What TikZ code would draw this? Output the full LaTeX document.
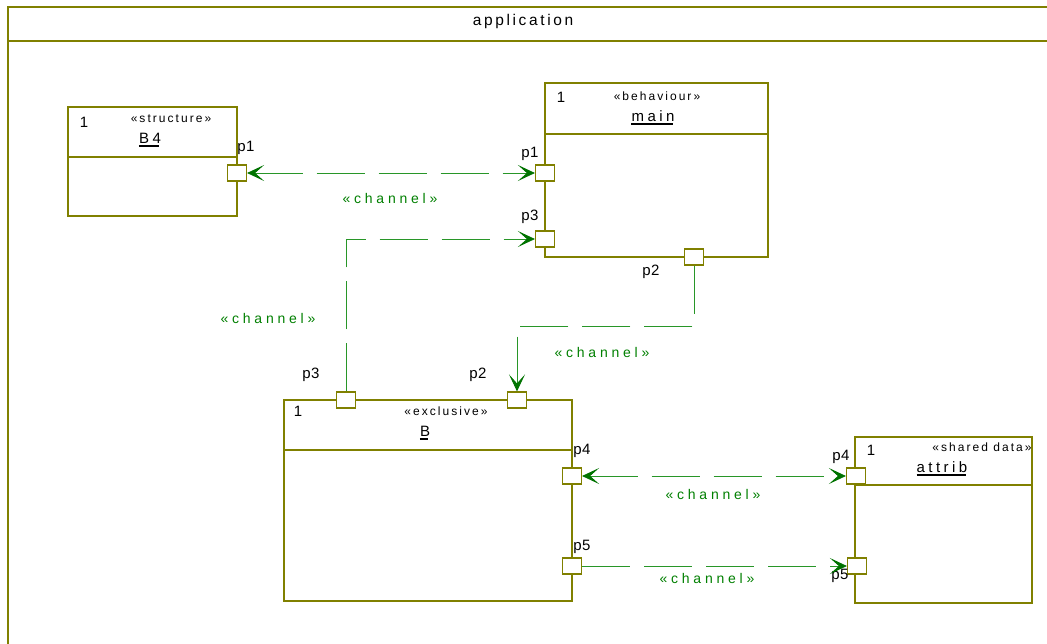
\documentclass[tikz,border=0pt]{standalone}
\usepackage{fontspec}
\setmainfont{Liberation Sans}
\usetikzlibrary{arrows.meta}
\newfontfamily\titlefont[LetterSpace=17]{Liberation Sans}
\newfontfamily\chanfont[LetterSpace=27]{Liberation Sans}
\newfontfamily\stereofont[LetterSpace=17]{Liberation Sans}
\newfontfamily\namefont[LetterSpace=23]{Liberation Sans}
\newfontfamily\portfont[LetterSpace=3]{Liberation Sans}
\definecolor{boxline}{RGB}{128,128,0}
\definecolor{chanline}{RGB}{40,150,40}
\definecolor{chanhead}{RGB}{0,115,0}
\definecolor{chantext}{RGB}{0,128,0}
\tikzset{
  box/.style={draw=boxline, line width=1.5pt, fill=white, inner sep=0pt},
  sep/.style={draw=boxline, line width=1.6pt},
  port/.style={draw=boxline, line width=1.2pt, fill=white, inner sep=0pt,
    minimum width=19pt, minimum height=16pt},
  chan/.style={draw=chanline, line width=0.9pt, dash pattern=on 48pt off 14pt},
  Arr/.tip={Stealth[length=17pt,width=16pt,inset=9pt,line width=0.8pt,color=chanhead,fill=chanhead]},
  plabel/.style={font=\portfont\fontsize{15}{17}\selectfont, text=black, inner sep=0pt},
  stereo/.style={font=\stereofont\fontsize{12}{14}\selectfont, inner sep=0pt},
  pname/.style={font=\namefont\fontsize{15}{17}\selectfont, inner sep=0pt},
  clabel/.style={font=\chanfont\fontsize{14}{16}\selectfont, text=chantext, inner sep=0pt},
}
\newcommand\ulnode[3]{%
  \node[pname] (#1) at (#2) {#3};
  \draw[line width=1.8pt] ([yshift=-2.8pt]#1.base west) -- ([yshift=-2.8pt,xshift=-2pt]#1.base east);}
\begin{document}
\begin{tikzpicture}[x=1pt,y=-1pt]
\useasboundingbox (0,0) rectangle (1047,643);
\fill[white] (0,0) rectangle (1047,643);
\clip (0,0) rectangle (1047,643);

% enclosing frame "application"
\draw[sep] (8,660) -- (8,7) -- (1070,7);
\draw[sep] (8,41) -- (1070,41);
\node[font=\titlefont\fontsize{15.5}{17}\selectfont, inner sep=0pt] (title) at (523,21) {application};

% parts
\node[box, minimum width=169pt, minimum height=109pt] (b4) at (152.5,161.5) {};
\draw[sep] (b4.north west) ++(0,51) -- ++(169,0);
\node[box, minimum width=223pt, minimum height=174pt] (main) at (656.5,170) {};
\draw[sep] (main.north west) ++(0,52) -- ++(223,0);
\node[box, minimum width=288pt, minimum height=201pt] (bx) at (428,500.5) {};
\draw[sep] (bx.north west) ++(0,51) -- ++(288,0);
\node[box, minimum width=177pt, minimum height=166pt] (attrib) at (943.5,520) {};
\draw[sep] (attrib.north west) ++(0,49) -- ++(177,0);

% part headers
\node[plabel] (b4mult) at (84,122) {1};
\node[stereo] (b4st) at (171,119) {«structure»};
\ulnode{b4name}{150,138}{B4}
\node[plabel] (mainmult) at (561,97) {1};
\node[stereo] (mainst) at (657,96) {«behaviour»};
\ulnode{mainname}{653,116}{main}
\node[plabel] (bxmult) at (298,411) {1};
\node[stereo] (bxst) at (446,411) {«exclusive»};
\ulnode{bxname}{425,431}{B}
\node[plabel] (atmult) at (871,450) {1};
\node[stereo] (atst) at (982,447) {«shared data»};
\ulnode{atname}{942,467}{attrib}

% ports
\node[port] (b4p1) at (237,173) {};
\node[port] (mainp1) at (545,173) {};
\node[port] (mainp3) at (545,239) {};
\node[port] (mainp2) at (694,257) {};
\node[port] (bxp3) at (346,400) {};
\node[port] (bxp2) at (517,400) {};
\node[port] (bxp4) at (572,476) {};
\node[port] (bxp5) at (572,566) {};
\node[port] (atp4) at (856,476) {};
\node[port] (atp5) at (857,566) {};

% port labels
\node[plabel] (lb4p1) at (246,148) {p1};
\node[plabel] (lmainp1) at (530,154) {p1};
\node[plabel] (lmainp3) at (530,217) {p3};
\node[plabel] (lmainp2) at (651,272) {p2};
\node[plabel] (lbxp3) at (311,375) {p3};
\node[plabel] (lbxp2) at (478,375) {p2};
\node[plabel] (lbxp4) at (582,451) {p4};
\node[plabel] (lbxp5) at (582,547) {p5};
\node[plabel] (latp4) at (841,457) {p4};
\node[plabel] (latp5) at (840,576) {p5};

% channels
\coordinate (bend) at (600,326);
\draw[chan, Arr-Arr] (b4p1.east) -- (mainp1.west);
\draw[chan, -Arr] (bxp3.north) |- (mainp3.west);
\draw[chan, -Arr] (mainp2.south) -- (mainp2.south |- bend) -| (bxp2.north);
\draw[chan, Arr-Arr] (bxp4.east) -- (atp4.west);
\draw[chan, -Arr] (bxp5.east) -- (atp5.west);

\node[clabel] (c1) at (390,198) {«channel»};
\node[clabel] (c2) at (268,318) {«channel»};
\node[clabel] (c3) at (602,352) {«channel»};
\node[clabel] (c4) at (713,494) {«channel»};
\node[clabel] (c5) at (707,578) {«channel»};
\end{tikzpicture}
\end{document}
